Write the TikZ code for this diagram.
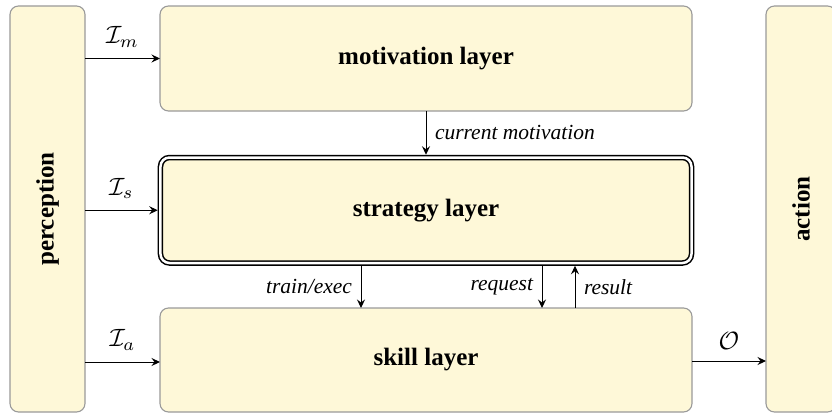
\documentclass[tikz,border=0pt]{standalone}
\usepackage{fontspec}
\setmainfont{Liberation Serif}
\usetikzlibrary{arrows.meta}
\definecolor{layerfill}{HTML}{FEF8D8}
\definecolor{layerline}{HTML}{9A9A9A}
\tikzset{
  layer/.style={draw=layerline, line width=0.45pt, fill=layerfill, rounded corners=3.4pt,
    inner sep=0pt, outer sep=0pt, font=\bfseries},
  mainlayer/.style={draw=black, line width=0.6pt, double=white, double distance=1pt,
    fill=layerfill, rounded corners=3.6pt, inner sep=0pt, outer sep=1.1pt, font=\bfseries},
  flow/.style={-{Stealth[length=3.4pt,width=3.2pt,inset=1.2pt]}, line width=0.4pt},
  flowlbl/.style={font=\fontsize{8.6}{10}\selectfont\itshape, inner sep=3.4pt},
}
\begin{document}
\begin{tikzpicture}[x=0.4pt, y=-0.4pt]
  \useasboundingbox (0,0) rectangle (832,414);
  \begin{scope}
    \clip (0,0) rectangle (832,414);
    % side columns
    \node[layer, minimum width=30pt, minimum height=162.4pt] (per) at (47.5,209) {};
    \node[rotate=90, font=\bfseries] at (per.center) {perception};
    \node[layer, minimum width=28pt, minimum height=162.4pt] (act) at (801,209) {};
    \node[rotate=90, font=\bfseries] at (act.center) {action};
    % the three layers
    \node[layer, minimum width=212.8pt, minimum height=42pt] (mot) at (426,58.5) {motivation layer};
    \node[mainlayer, minimum width=212.4pt, minimum height=42.2pt] (str) at (426,210.25) {strategy layer};
    \node[layer, minimum width=212.8pt, minimum height=41.6pt] (skl) at (426,360) {skill layer};
  \end{scope}
  % inputs and output
  \draw[flow] (mot.west -| per.east) -- node[above=1pt] {$\mathcal{I}_m$} (mot.west);
  \draw[flow] (str.west -| per.east) -- node[above=1pt] {$\mathcal{I}_s$} (str.west);
  \draw[flow] (per.east |- 0,362) coordinate (ia) -- node[above=1pt] {$\mathcal{I}_a$} (ia -| skl.west);
  \draw[flow] (skl.east |- 0,361) coordinate (oo) -- node[above=1pt] {$\mathcal{O}$} (oo -| act.west);
  % interactions between layers
  \draw[flow] (mot.south) -- node[flowlbl, right] {current motivation} (str.north);
  \draw[flow] (str.south -| 361,0) coordinate (te) -- node[flowlbl, left] {train/exec} (te |- skl.north);
  \draw[flow] (str.south -| 542,0) coordinate (rq) -- node[flowlbl, left] {request} (rq |- skl.north);
  \draw[flow] (skl.north -| 575,0) coordinate (rs) -- node[flowlbl, right] {result} (rs |- str.south);
\end{tikzpicture}
\end{document}
